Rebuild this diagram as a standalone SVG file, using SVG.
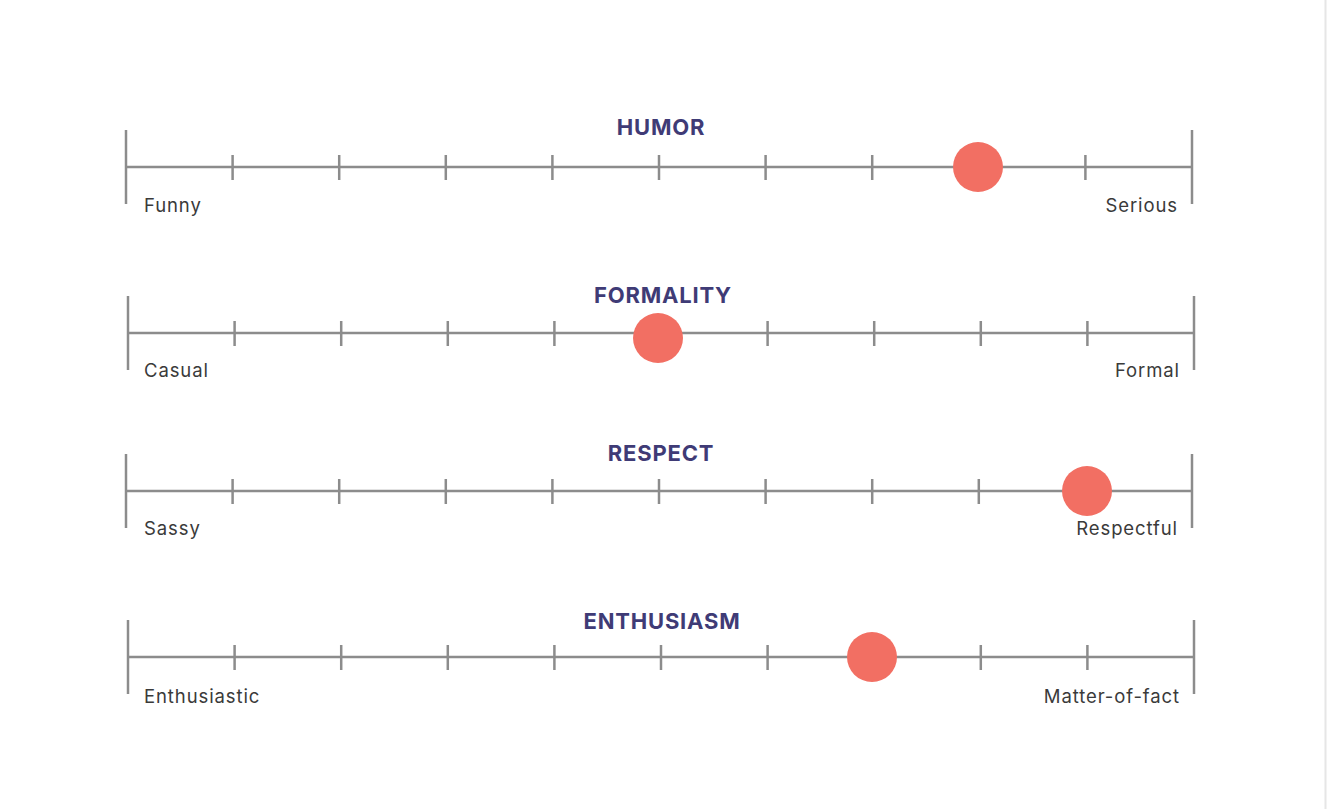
<svg xmlns="http://www.w3.org/2000/svg" width="1327" height="809" viewBox="0 0 1327 809">
<style>
.axis{stroke:#8c8c8c;stroke-width:2.5;fill:none}
.tick{stroke:#8c8c8c;stroke-width:2.5}
.title{font-family:Inter,"Liberation Sans",sans-serif;font-weight:bold;font-size:22px;letter-spacing:0.8px;fill:#3f3b76;text-anchor:middle}
.lbl{font-family:Inter,"Liberation Sans",sans-serif;font-size:18.5px;letter-spacing:0.9px;fill:#3a3a3a}
.dot{fill:#f26f63}
</style>
<defs>
<g id="scale">
<line class="axis" x1="0" y1="0" x2="1066" y2="0"/>
<line class="tick" x1="0" y1="-37" x2="0" y2="37"/>
<line class="tick" x1="1066" y1="-37" x2="1066" y2="37"/>
<line class="tick" x1="106.6" y1="-12" x2="106.6" y2="13"/>
<line class="tick" x1="213.2" y1="-12" x2="213.2" y2="13"/>
<line class="tick" x1="319.8" y1="-12" x2="319.8" y2="13"/>
<line class="tick" x1="426.4" y1="-12" x2="426.4" y2="13"/>
<line class="tick" x1="533" y1="-12" x2="533" y2="13"/>
<line class="tick" x1="639.6" y1="-12" x2="639.6" y2="13"/>
<line class="tick" x1="746.2" y1="-12" x2="746.2" y2="13"/>
<line class="tick" x1="852.8" y1="-12" x2="852.8" y2="13"/>
<line class="tick" x1="959.4" y1="-12" x2="959.4" y2="13"/>
</g>
</defs>
<rect width="1327" height="809" fill="#ffffff"/>
<line x1="1325.5" y1="0" x2="1325.5" y2="809" stroke="#e6e6e6" stroke-width="2"/>
<g id="humor">
<use href="#scale" x="126" y="167"/>
<text class="title" x="661" y="135">HUMOR</text>
<text class="lbl" x="144" y="212">Funny</text>
<text class="lbl" x="1178" y="212" text-anchor="end">Serious</text>
<circle class="dot" cx="978" cy="167" r="25"/>
</g>
<g id="formality">
<use href="#scale" x="128" y="333"/>
<text class="title" x="663" y="303">FORMALITY</text>
<text class="lbl" x="144" y="377">Casual</text>
<text class="lbl" x="1180" y="377" text-anchor="end">Formal</text>
<circle class="dot" cx="658" cy="338" r="25"/>
</g>
<g id="respect">
<use href="#scale" x="126" y="491"/>
<text class="title" x="661" y="461">RESPECT</text>
<text class="lbl" x="144" y="535">Sassy</text>
<text class="lbl" x="1178" y="535" text-anchor="end">Respectful</text>
<circle class="dot" cx="1087" cy="491" r="25"/>
</g>
<g id="enthusiasm">
<use href="#scale" x="128" y="657"/>
<text class="title" x="662" y="629">ENTHUSIASM</text>
<text class="lbl" x="144" y="703">Enthusiastic</text>
<text class="lbl" x="1180" y="703" text-anchor="end">Matter-of-fact</text>
<circle class="dot" cx="872" cy="657" r="25"/>
</g>
</svg>
